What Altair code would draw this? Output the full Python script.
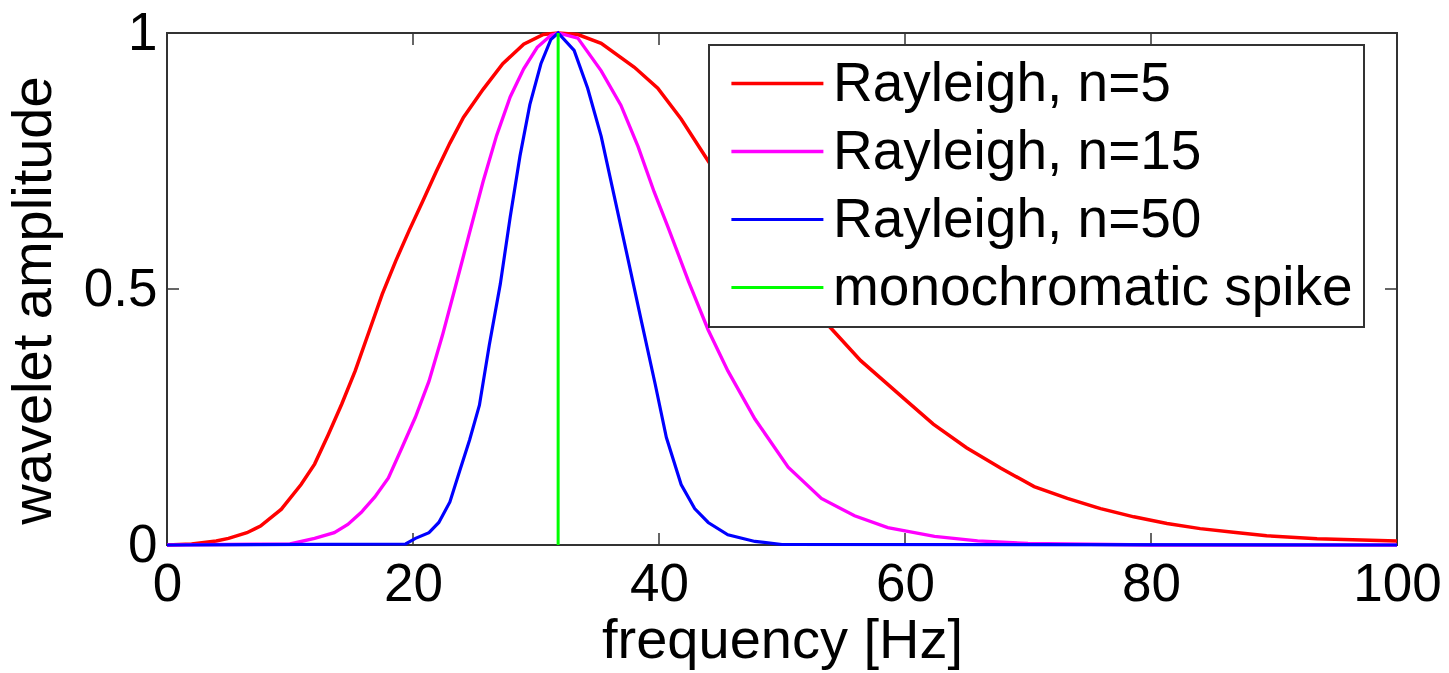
import altair as alt
import pandas as pd

# Rayleigh wavelet amplitude spectra, peak-normalised
hz_n5 = [0, 2, 4, 5, 6.5, 7.6, 9.3, 10.9, 12.0, 13.1, 14.2, 15.3, 16.4, 17.5,
         18.6, 19.7, 20.8, 21.9, 23.0, 24.1, 25.7, 27.3, 29.0, 30.6, 31.8, 33.4,
         35.3, 38.0, 39.9, 41.8, 44.0, 46, 48, 50, 52, 54.3, 56.4, 58.3, 60.2,
         62.3, 65.0, 67.8, 70.5, 73.2, 75.9, 78.6, 81.3, 84.0, 86.7, 89.4, 93.5, 100]
amp_n5 = [0, 0.002, 0.008, 0.013, 0.024, 0.037, 0.07, 0.118, 0.158, 0.215, 0.275,
          0.34, 0.415, 0.49, 0.555, 0.615, 0.672, 0.73, 0.785, 0.835, 0.89, 0.94,
          0.978, 0.997, 1.0, 0.997, 0.98, 0.933, 0.892, 0.832, 0.75, 0.675, 0.605,
          0.54, 0.475, 0.415, 0.36, 0.32, 0.28, 0.236, 0.19, 0.15, 0.114, 0.091,
          0.071, 0.055, 0.042, 0.032, 0.025, 0.018, 0.012, 0.008]

hz_n15 = [0, 10, 12.0, 13.6, 14.7, 15.8, 16.9, 18.0, 19.1, 20.2, 21.3, 22.4, 23.4,
          24.6, 25.7, 26.8, 27.9, 29.0, 30.1, 31.2, 31.8, 33.4, 35.3, 36.9, 38.3,
          39.6, 40.7, 42.4, 44.0, 45.6, 47.8, 50.5, 53.2, 55.9, 58.6, 62.4, 65.9,
          70, 80, 100]
amp_n15 = [0, 0.002, 0.013, 0.024, 0.04, 0.064, 0.094, 0.131, 0.19, 0.25, 0.32,
           0.41, 0.5, 0.61, 0.71, 0.8, 0.875, 0.93, 0.972, 0.995, 1.0, 0.99, 0.926,
           0.859, 0.778, 0.69, 0.623, 0.515, 0.42, 0.34, 0.246, 0.152, 0.091, 0.057,
           0.034, 0.017, 0.008, 0.003, 0, 0]

hz_n50 = [0, 19.4, 20.2, 21.3, 22.1, 23.0, 23.8, 24.6, 25.4, 26.2, 27.1, 27.9,
          28.7, 29.5, 30.4, 31.2, 31.8, 33.1, 34.2, 35.3, 36.4, 37.5, 38.6, 39.7,
          40.6, 41.8, 42.9, 44.0, 45.6, 47.8, 50, 100]
amp_n50 = [0, 0.002, 0.013, 0.024, 0.044, 0.084, 0.145, 0.205, 0.273, 0.39, 0.51,
           0.64, 0.76, 0.86, 0.94, 0.987, 1.0, 0.966, 0.892, 0.798, 0.677, 0.556,
           0.434, 0.313, 0.21, 0.118, 0.071, 0.044, 0.02, 0.007, 0.001, 0]

# single-frequency reference
hz_spike = [31.8, 31.8]
amp_spike = [0, 1]

names = ["Rayleigh, n=5", "Rayleigh, n=15", "Rayleigh, n=50", "monochromatic spike"]
colors = ["#ff0000", "#ff00ff", "#0000ff", "#00ff00"]
widths = [3.5, 3, 4, 3.5]

x_ticks = [0, 20, 40, 60, 80, 100]
y_ticks = [0, 0.5, 1]

rows = []
for name, xs, ys in zip(names, [hz_n5, hz_n15, hz_n50, hz_spike],
                        [amp_n5, amp_n15, amp_n50, amp_spike]):
    for i, (fx, fy) in enumerate(zip(xs, ys)):
        rows.append({"series": name, "frequency": fx, "amplitude": fy, "idx": i})
df = pd.DataFrame(rows)

W, H = 1230, 512
FONT = "Liberation Sans"
TICK_FS = 53
TITLE_FS = 56
LEGEND_FS = 55

x_scale = alt.Scale(domain=[0, 100], nice=False, zero=False)
y_scale = alt.Scale(domain=[0, 1], nice=False, zero=False)

lines = alt.Chart(df).mark_line(clip=False).encode(
    x=alt.X("frequency:Q", scale=x_scale, title="frequency [Hz]",
            axis=alt.Axis(values=x_ticks, labelPadding=13, titlePadding=2,
                          labelFlush=False, labelOverlap=False)),
    y=alt.Y("amplitude:Q", scale=y_scale, title="wavelet amplitude",
            axis=alt.Axis(values=y_ticks, format="~g", labelPadding=10,
                          titlePadding=21, titleY=267, labelOverlap=False)),
    color=alt.Color("series:N", scale=alt.Scale(domain=names, range=colors),
                    sort=names, title=None,
                    legend=alt.Legend(orient="none", legendX=542, legendY=12,
                                      symbolType="M-0.7,0H3.3", symbolSize=2116,
                                      symbolStrokeWidth=4, labelOffset=58,
                                      labelLimit=900, padding=11, rowPadding=12)),
    strokeWidth=alt.StrokeWidth("series:N", scale=alt.Scale(domain=names, range=widths),
                                legend=None),
    order="idx:Q",
)

tick_style = dict(color="#333333", strokeWidth=1.5)
xt = pd.DataFrame({"frequency": x_ticks})
yt = pd.DataFrame({"amplitude": y_ticks})

ticks_bottom = alt.Chart(xt).mark_rule(**tick_style).encode(
    x="frequency:Q", y=alt.value(H), y2=alt.value(H - 12))
ticks_top = alt.Chart(xt).mark_rule(**tick_style).encode(
    x="frequency:Q", y=alt.value(0), y2=alt.value(12))
ticks_left = alt.Chart(yt).mark_rule(**tick_style).encode(
    y="amplitude:Q", x=alt.value(0), x2=alt.value(12))
ticks_right = alt.Chart(yt).mark_rule(**tick_style).encode(
    y="amplitude:Q", x=alt.value(W), x2=alt.value(W - 12))

chart = alt.layer(ticks_bottom, ticks_top, ticks_left, ticks_right, lines).properties(
    width=W, height=H,
    autosize=alt.AutoSizeParams(type="none"),
    padding={"left": 167, "top": 33, "right": 52, "bottom": 128},
    background="white",
).configure_view(
    stroke="#333333", strokeWidth=2,
).configure_axis(
    grid=False, ticks=False, domain=False,
    labelFont=FONT, titleFont=FONT, labelFontSize=TICK_FS, titleFontSize=TITLE_FS,
    labelColor="black", titleColor="black", titleFontWeight="normal",
).configure_legend(
    labelFont=FONT, labelFontSize=LEGEND_FS, labelColor="black",
    fillColor="white", strokeColor="#333333", strokeWidth=2, cornerRadius=0,
)

chart.save("out.html", embed_options={"renderer": "svg", "actions": False})
